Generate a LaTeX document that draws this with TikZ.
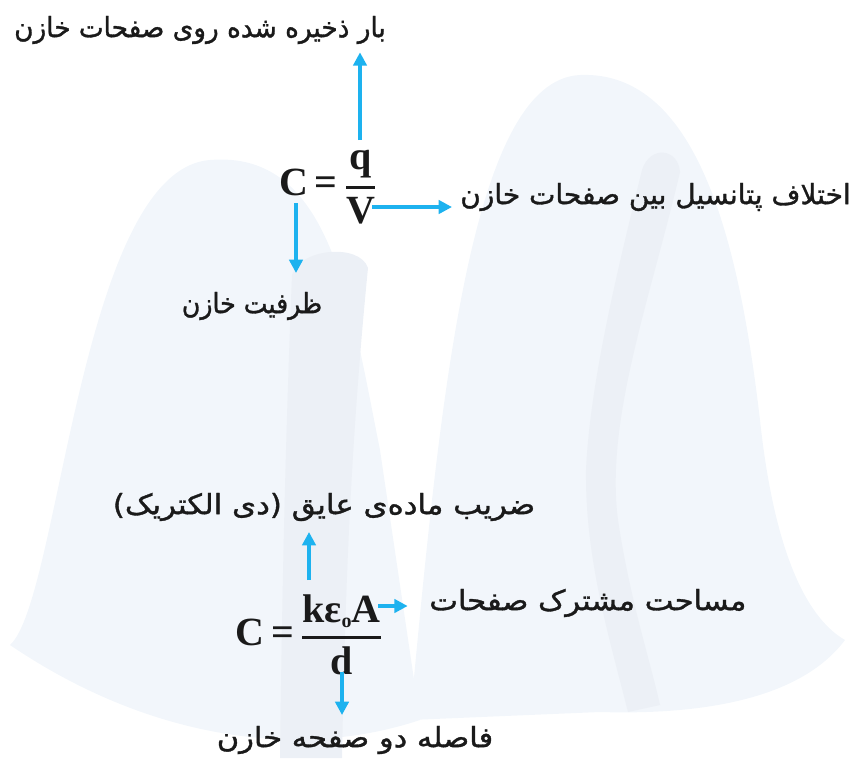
\documentclass[tikz,border=0pt]{standalone}
\usepackage{fontspec}
\setmainfont{Liberation Serif}
\newfontfamily\fa[Script=Arabic,FakeBold=1.2]{DejaVu Sans}
\TeXXeTstate=1
\usetikzlibrary{arrows.meta}
\definecolor{arrowc}{HTML}{1DB2EF}
\definecolor{txt}{HTML}{1A1A1A}
\definecolor{wm}{HTML}{F2F6FB}
\definecolor{wmd}{HTML}{ECF0F6}
\begin{document}
\begin{tikzpicture}[x=0.75pt,y=-0.75pt,
  arr/.style={draw=arrowc,line width=3pt,-{Triangle[width=10pt,length=10pt]}},
  lab/.style={font=\fa\fontsize{21}{25}\selectfont,text=txt,inner sep=0pt},
  frm/.style={font=\bfseries\fontsize{30}{36}\selectfont,text=txt,inner sep=0pt}]
\useasboundingbox (0,0) rectangle (850,758);
% faint watermark
\fill[wm] (10,645) .. controls (60,600) and (80,170) .. (210,160)
  .. controls (330,150) and (350,300) .. (380,450) -- (420,720)
  .. controls (300,760) and (150,740) .. (10,645) -- cycle;
\fill[wm] (410,720) .. controls (440,400) and (470,80) .. (580,75)
  .. controls (700,70) and (740,250) .. (760,420)
  .. controls (775,560) and (810,620) .. (845,640)
  .. controls (800,700) and (700,715) .. (600,712) -- cycle;
\fill[wmd] (292,275) .. controls (300,248) and (360,243) .. (368,268)
  .. controls (350,450) and (345,600) .. (342,758) -- (280,758)
  .. controls (282,600) and (285,450) .. (292,275) -- cycle;
\fill[wmd] (642,170) .. controls (650,145) and (678,148) .. (680,172)
  .. controls (650,300) and (605,420) .. (618,520)
  .. controls (630,600) and (650,660) .. (660,705) -- (628,712)
  .. controls (610,640) and (585,560) .. (586,470)
  .. controls (590,380) and (620,260) .. (642,170) -- cycle;
% labels
\node[lab] (l1) at (200,30) {\scalebox{0.94}[1]{\beginR بار ذخیره شده روی صفحات خازن\endR}};
\node[lab,anchor=west] (l2) at (460,197) {\beginR اختلاف پتانسیل بین صفحات خازن\endR};
\node[lab] (l3) at (252,306) {\scalebox{0.9}[1]{\beginR ظرفیت خازن\endR}};
\node[lab] (l4) at (324,507) {\scalebox{1.1}[1]{\beginR ضریب ماده‌ی عایق (دی الکتریک)\endR}};
\node[lab,anchor=west] (l5) at (429,603) {\scalebox{1.09}[1]{\beginR مساحت مشترک صفحات\endR}};
\node[lab] (l6) at (355,740) {\scalebox{1.09}[1]{\beginR فاصله دو صفحه خازن\endR}};
% formulas
\node[frm] (f1) at (328,187) {C\,=\,$\displaystyle{\hbox{q}\above 2pt \hbox{V}}$};
\node[frm] (f2) at (309,635) {C\,=\,$\displaystyle{\hbox{kε\raisebox{-0.12em}{\fontsize{15}{15}\selectfont o}A}\above 2pt \hbox{d}}$};
% arrow start points
\coordinate (s1) at (360,140);
\coordinate (s2) at (372,207);
\coordinate (s3) at (296,203);
\coordinate (s4) at (309,580);
\coordinate (s5) at (378,606);
\coordinate (s6) at (342,672);
\draw[arr,shorten >=6pt] (s1) -- (s1 |- l1.south);
\draw[arr,shorten >=6pt] (s2) -- (s2 -| l2.west);
\draw[arr,shorten >=14pt] (s3) -- (s3 |- l3.north);
\draw[arr,shorten >=8pt] (s4) -- (s4 |- l4.south);
\draw[arr,shorten >=16pt] (s5) -- (s5 -| l5.west);
\draw[arr,shorten >=8pt] (s6) -- (s6 |- l6.north);
\end{tikzpicture}
\end{document}
